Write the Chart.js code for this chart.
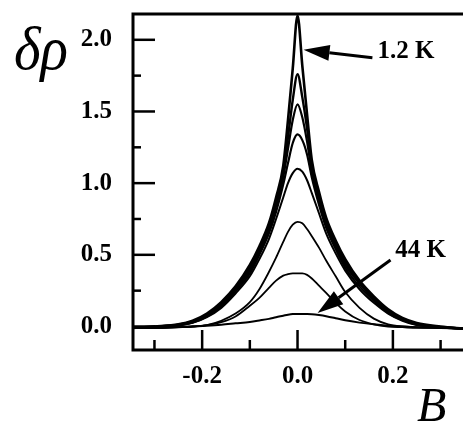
<!DOCTYPE html>
<html>
<head>
<meta charset="utf-8">
<script src="https://cdn.jsdelivr.net/npm/chart.js@4.4.1/dist/chart.umd.min.js"></script>
<style>
html,body{margin:0;padding:0;background:#fff;}
canvas{display:block;}
</style>
</head>
<body>
<canvas id="chart" width="463" height="424"></canvas>
<script>

// ================= DATA =================
// magnetic field B (T), shared by all curves
const bVals = [-0.345,-0.3,-0.25,-0.22,-0.19,-0.16,-0.13,-0.1,-0.08,-0.06,-0.045,-0.03,-0.02,-0.01,
               0,
               0.01,0.02,0.03,0.045,0.06,0.08,0.1,0.13,0.16,0.19,0.22,0.25,0.3,0.35];

// delta rho, one array per temperature (1.2 K on top ... 44 K at the bottom)
const rho12K = [-0.01,0.0,0.015,0.04,0.09,0.17,0.28,0.43,0.56,0.72,0.9,1.12,1.44,1.80,
                2.17,
                1.82,1.48,1.16,0.94,0.76,0.6,0.47,0.32,0.21,0.12,0.06,0.025,0.0,-0.015];
const rhoB = [-0.01,0.0,0.012,0.035,0.08,0.16,0.27,0.41,0.54,0.70,0.87,1.08,1.32,1.58,
              1.76,
              1.60,1.38,1.12,0.91,0.74,0.58,0.45,0.31,0.2,0.11,0.055,0.02,-0.005,-0.015];
const rhoC = [-0.01,-0.005,0.01,0.03,0.075,0.15,0.26,0.39,0.52,0.67,0.84,1.04,1.24,1.44,
              1.55,
              1.46,1.29,1.08,0.88,0.71,0.56,0.43,0.30,0.19,0.1,0.05,0.015,-0.005,-0.015];
const rhoD = [-0.01,-0.005,0.008,0.028,0.07,0.14,0.245,0.37,0.5,0.65,0.8,0.99,1.14,1.28,
              1.34,
              1.30,1.20,1.04,0.85,0.69,0.54,0.41,0.28,0.18,0.095,0.045,0.012,-0.005,-0.015];
const rhoE = [-0.01,-0.005,0.005,0.025,0.065,0.13,0.23,0.35,0.47,0.61,0.75,0.9,1.0,1.07,
              1.10,
              1.08,1.02,0.93,0.79,0.65,0.51,0.39,0.26,0.165,0.09,0.04,0.01,-0.005,-0.015];
const rhoF = [-0.01,-0.01,-0.005,0.0,0.01,0.04,0.09,0.17,0.26,0.38,0.48,0.59,0.66,0.71,
              0.73,
              0.72,0.68,0.63,0.55,0.46,0.35,0.24,0.13,0.055,0.015,0.0,-0.005,-0.01,-0.015];
const rhoG = [-0.01,-0.01,-0.005,0.0,0.01,0.03,0.07,0.145,0.2,0.27,0.32,0.355,0.365,0.37,
              0.37,
              0.37,0.36,0.335,0.285,0.235,0.165,0.105,0.045,0.015,0.0,-0.005,-0.01,-0.01,-0.015];
const rho44K = [-0.01,-0.01,-0.005,0.0,0.005,0.012,0.022,0.032,0.042,0.053,0.065,0.075,0.082,0.087,
                0.088,
                0.088,0.088,0.086,0.08,0.072,0.058,0.043,0.027,0.015,0.006,0.0,-0.005,-0.01,-0.015];

const curves = [rho12K, rhoB, rhoC, rhoD, rhoE, rhoF, rhoG, rho44K];
const curveWidths = [2.6, 2.4, 2.2, 2.2, 2.0, 1.8, 1.8, 2.0];

// axes
const xMin = -0.345, xMax = 0.347;
const yMin = -0.164, yMax = 2.18;
const xMajor = [-0.2, 0.0, 0.2];
const xMinor = [-0.3, -0.1, 0.1, 0.3];
const yMajor = [0.0, 0.5, 1.0, 1.5, 2.0];
const yMinor = [0.25, 0.75, 1.25, 1.75];

// labels with arrows: text anchor and arrow tail/tip in data units
const notes = [
  {text:"1.2 K", x:0.1675, y:1.916, tail:[0.157,1.874], tip:[0.0126,1.93]},
  {text:"44 K",  x:0.205,  y:0.527, tail:[0.195,0.464], tip:[0.042,0.094]}
];

// ================= PLUGIN =================
const serif = "'Liberation Serif','Times New Roman',serif";

function line(ctx,x1,y1,x2,y2){
  ctx.beginPath(); ctx.moveTo(x1,y1); ctx.lineTo(x2,y2); ctx.stroke();
}

const paperPlugin = {
  id:"paper",
  afterDatasetsDraw(chart){
    const ctx = chart.ctx;
    const xs = chart.scales.x, ys = chart.scales.y;
    const a = chart.chartArea;

    ctx.save();
    ctx.strokeStyle = "#000";
    ctx.fillStyle = "#000";
    ctx.lineCap = "butt";

    // frame (left, top, bottom; right side is cut off)
    ctx.lineWidth = 3;
    ctx.beginPath();
    ctx.moveTo(a.right+2, a.top);
    ctx.lineTo(a.left, a.top);
    ctx.lineTo(a.left, a.bottom);
    ctx.lineTo(a.right+2, a.bottom);
    ctx.stroke();

    // inward ticks
    ctx.lineWidth = 2.5;
    yMajor.forEach(v=>{ const p = ys.getPixelForValue(v); line(ctx,a.left,p,a.left+22,p); });
    yMinor.forEach(v=>{ const p = ys.getPixelForValue(v); line(ctx,a.left,p,a.left+8,p); });
    xMajor.forEach(v=>{ const p = xs.getPixelForValue(v); line(ctx,p,a.bottom,p,a.bottom-20); });
    xMinor.forEach(v=>{ const p = xs.getPixelForValue(v); line(ctx,p,a.bottom,p,a.bottom-10); });

    // notes with arrows
    ctx.font = "bold 25px " + serif;
    ctx.textBaseline = "middle";
    ctx.textAlign = "left";
    notes.forEach(n=>{
      ctx.fillText(n.text, xs.getPixelForValue(n.x), ys.getPixelForValue(n.y));
      const x1 = xs.getPixelForValue(n.tail[0]), y1 = ys.getPixelForValue(n.tail[1]);
      const x2 = xs.getPixelForValue(n.tip[0]),  y2 = ys.getPixelForValue(n.tip[1]);
      const ang = Math.atan2(y2-y1, x2-x1);
      const len = 26, half = 8;
      const bx = x2 - len*Math.cos(ang), by = y2 - len*Math.sin(ang);
      ctx.lineWidth = 3;
      line(ctx,x1,y1,bx,by);
      ctx.beginPath();
      ctx.moveTo(x2,y2);
      ctx.lineTo(bx + half*Math.sin(ang), by - half*Math.cos(ang));
      ctx.lineTo(bx - half*Math.sin(ang), by + half*Math.cos(ang));
      ctx.closePath();
      ctx.fill();
    });

    // axis names
    ctx.textBaseline = "alphabetic";
    ctx.font = "italic 62px " + serif;
    const w = ctx.measureText("δρ").width;
    ctx.save();
    ctx.translate(14, 69);
    ctx.scale(54/w, 1);
    ctx.fillText("δρ", 0, 0);
    ctx.restore();

    ctx.font = "italic 48px " + serif;
    ctx.fillText("B", 417, 421);

    ctx.restore();
  }
};

// ================= CHART =================
const datasets = curves.map((c,k)=>({
  data: bVals.map((b,i)=>({x:b, y:c[i]})),
  borderColor:"#000",
  borderWidth: curveWidths[k],
  pointRadius:0,
  cubicInterpolationMode:"monotone",
  fill:false
}));

const tickFont = {family:serif, size:25, weight:"bold"};

new Chart(document.getElementById("chart"),{
  type:"line",
  data:{datasets:datasets},
  options:{
    responsive:false,
    animation:false,
    layout:{padding:{top:14,right:0,left:0,bottom:0}},
    plugins:{legend:{display:false}, tooltip:{enabled:false}},
    scales:{
      x:{
        type:"linear", min:xMin, max:xMax,
        grid:{display:false, drawTicks:false},
        border:{display:false},
        afterBuildTicks:s=>{ s.ticks = xMajor.map(v=>({value:v})); },
        afterFit:s=>{ s.height = 74; s.paddingLeft = 0; s.paddingRight = 0; },
        ticks:{color:"#000", font:tickFont, padding:12, maxRotation:0,
               callback:v=>v.toFixed(1)}
      },
      y:{
        type:"linear", min:yMin, max:yMax,
        grid:{display:false, drawTicks:false},
        border:{display:false},
        afterBuildTicks:s=>{ s.ticks = yMajor.map(v=>({value:v})); },
        afterFit:s=>{ s.width = 133; s.paddingTop = 0; s.paddingBottom = 0; },
        ticks:{color:"#000", font:tickFont, padding:21,
               callback:v=>v.toFixed(1)}
      }
    }
  },
  plugins:[paperPlugin]
});

</script>
</body>
</html>
